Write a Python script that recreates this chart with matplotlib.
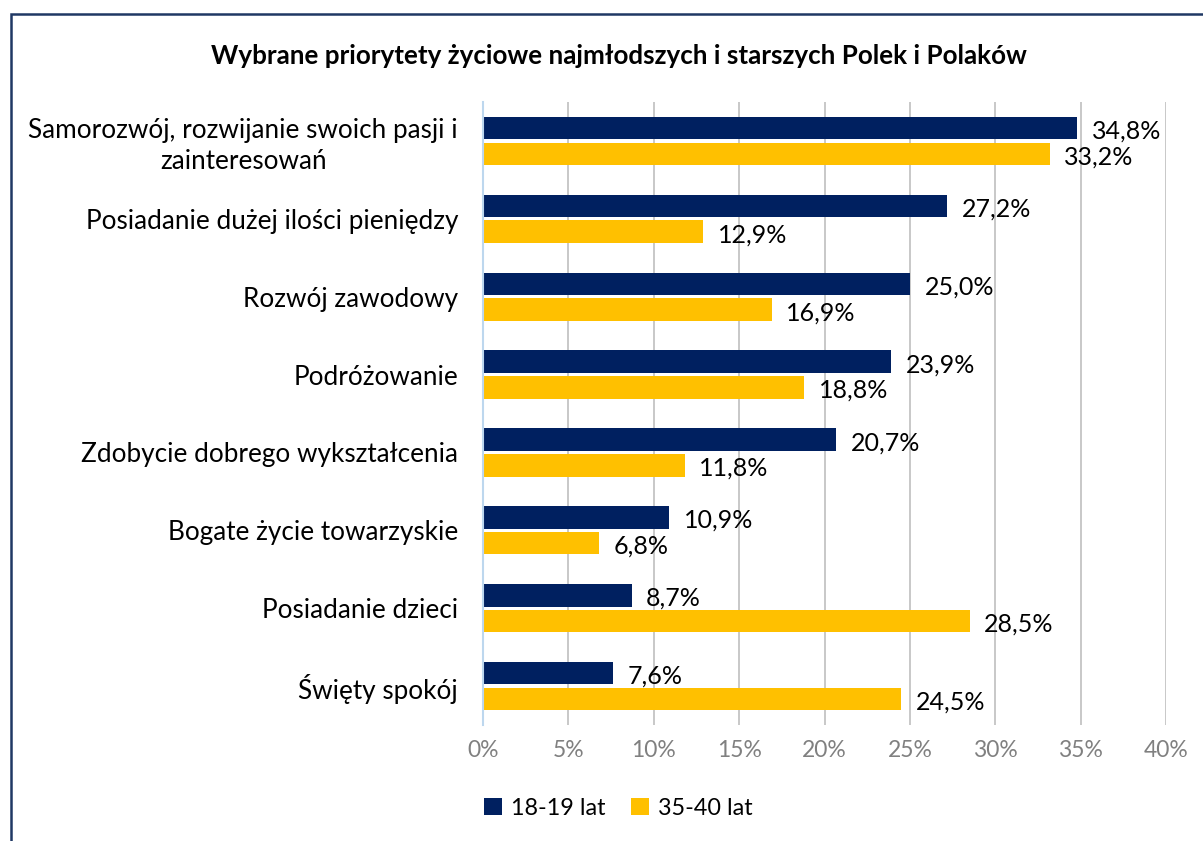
import matplotlib.pyplot as plt
import numpy as np
from matplotlib.patches import Rectangle

categories = ['Samorozwój, rozwijanie swoich pasji i\nzainteresowań',
              'Posiadanie dużej ilości pieniędzy',
              'Rozwój zawodowy',
              'Podróżowanie',
              'Zdobycie dobrego wykształcenia',
              'Bogate życie towarzyskie',
              'Posiadanie dzieci',
              'Święty spokój']
young = [34.8, 27.2, 25.0, 23.9, 20.7, 10.9, 8.7, 7.6]
older = [33.2, 12.9, 16.9, 18.8, 11.8, 6.8, 28.5, 24.5]
series_names = ['18-19 lat', '35-40 lat']
xticks = [0, 5, 10, 15, 20, 25, 30, 35, 40]

plt.rcParams['font.family'] = ['Lato', 'DejaVu Sans']

navy = '#002060'
yellow = '#FFC000'

fig = plt.figure(figsize=(12.03, 8.41), dpi=100)
ax = fig.add_axes([0.4015, 0.138, 0.5678, 0.7407])

y = np.arange(len(categories))
h = 0.29
off = 0.165
b1 = ax.barh(y - off, young, height=h, color=navy, label=series_names[0], zorder=3)
b2 = ax.barh(y + off, older, height=h, color=yellow, label=series_names[1], zorder=3)

for yy, v in zip(y - off, young):
    ax.text(v + 0.85, yy + 0.04, f'{v:.1f}%'.replace('.', ','), va='center', ha='left',
            fontsize=18, color='black')
for yy, v in zip(y + off, older):
    ax.text(v + 0.85, yy + 0.04, f'{v:.1f}%'.replace('.', ','), va='center', ha='left',
            fontsize=18, color='black')

ax.set_xlim(0, 40)
ax.set_ylim(len(categories) - 0.5, -0.5)
ax.set_xticks(xticks)
ax.set_xticklabels([f'{t}%' for t in xticks], fontsize=16.5, color='#808080')
ax.set_yticks(y)
ax.set_yticklabels(categories, fontsize=18.8, multialignment='center', linespacing=1.3)
ax.tick_params(axis='both', length=0)
ax.tick_params(axis='y', pad=18)
ax.tick_params(axis='x', pad=11)
ax.grid(axis='x', color='#BFBFBF', linewidth=1.2, zorder=0)
for s in ['top', 'right', 'bottom']:
    ax.spines[s].set_visible(False)
ax.spines['left'].set_color('#BDD7EE')
ax.spines['left'].set_linewidth(1.5)
ax.spines['left'].set_zorder(4)

fig.text(0.5145, 0.934, 'Wybrane priorytety życiowe najmłodszych i starszych Polek i Polaków',
         ha='center', va='center', fontsize=18.7, fontweight='bold')

fig.legend(handles=[b1, b2], loc='center', bbox_to_anchor=(0.514, 0.039), ncol=2,
           frameon=False, fontsize=16.8, handlelength=0.75, handleheight=0.75,
           handletextpad=0.4, columnspacing=1.1)

fig.patches.append(Rectangle((11 / 1203, -0.05), 1.1, 1 - 14 / 841 + 0.05,
                             transform=fig.transFigure, fill=False,
                             edgecolor='#1F3864', linewidth=1.8))

fig.savefig('out.png', dpi=100)
